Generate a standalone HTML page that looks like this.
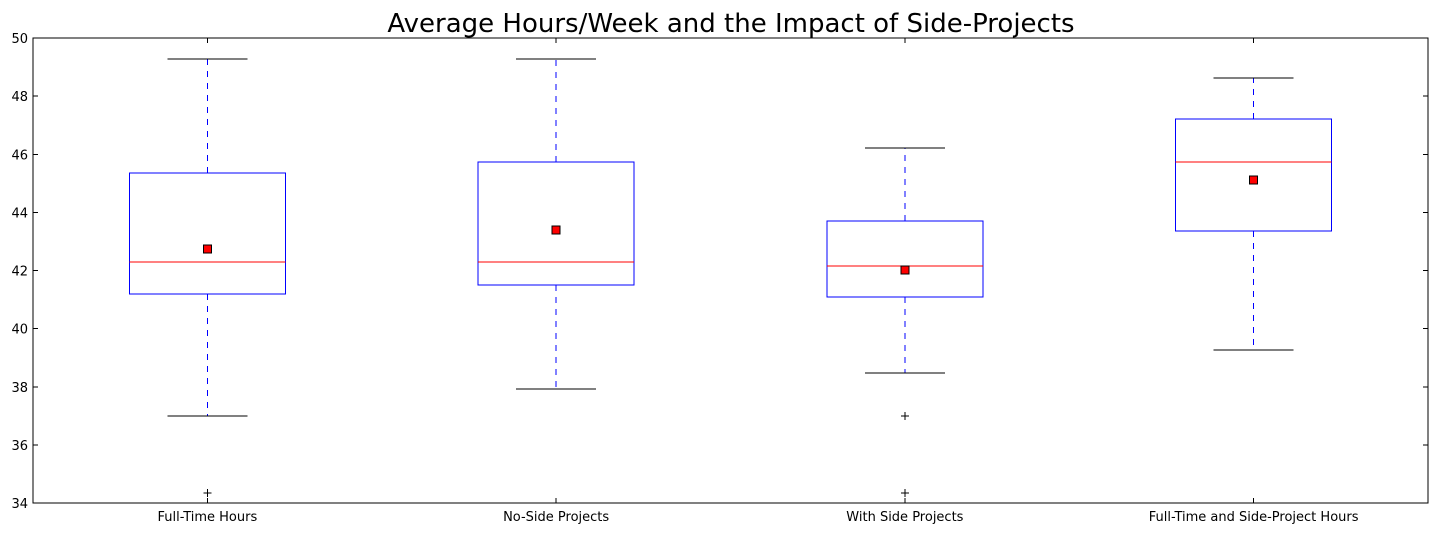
<!DOCTYPE html>
<html><head><meta charset="utf-8"><style>body{margin:0;background:#fff}svg{display:block;font-family:"DejaVu Sans","Liberation Sans",sans-serif}</style></head>
<body>
<svg id="chart" width="1438" height="533" shape-rendering="crispEdges"></svg>
<script>
const categories=["Full-Time Hours","No-Side Projects","With Side Projects","Full-Time and Side-Project Hours"];
const whiskerLow=[36.99,37.92,38.47,39.26];
const q1Values=[41.19,41.5,41.09,43.36];
const medianValues=[42.29,42.29,42.16,45.73];
const q3Values=[45.36,45.73,43.70,47.21];
const whiskerHigh=[49.28,49.28,46.22,48.62];
const meanValues=[42.74,43.39,42.02,45.11];
const outliers=[[34.35],[],[37.0,34.35],[]];
const yTicks=[34,36,38,40,42,44,46,48,50];
const NS="http://www.w3.org/2000/svg";
const svg=document.getElementById('chart');
const L=33,R=1428,T=38,B=503,ymin=34,ymax=50;
const y=v=>B-(v-ymin)/(ymax-ymin)*(B-T);
const x=i=>L+(i+0.5)*(R-L)/categories.length;
function el(t,a,p){const e=document.createElementNS(NS,t);for(const k in a)e.setAttribute(k,a[k]);(p||svg).appendChild(e);return e;}
const title=el('text',{x:731,y:32,'text-anchor':'middle','font-size':26,fill:'#000','shape-rendering':'auto'});
title.textContent="Average Hours/Week and the Impact of Side-Projects";


yTicks.forEach(v=>{
  const g=el('g',{});
  
  
  el('line',{x1:L,x2:L+5,y1:y(v),y2:y(v),stroke:'#000'},g);
  el('line',{x1:R,x2:R-5,y1:y(v),y2:y(v),stroke:'#000'},g);
  const t=el('text',{x:L-5,y:y(v)+5,'text-anchor':'end','font-size':13},g);t.textContent=v;
});
const bw=156;
categories.forEach((c,i)=>{
  const cx=x(i);
  const g=el('g',{});
  
  
  el('line',{x1:cx,x2:cx,y1:B,y2:B-5,stroke:'#000'},g);
  el('line',{x1:cx,x2:cx,y1:T,y2:T+5,stroke:'#000'},g);
  const t=el('text',{x:cx,y:521,'text-anchor':'middle','font-size':13},g);t.textContent=c;
  el('line',{x1:cx,x2:cx,y1:y(q3Values[i]),y2:y(whiskerHigh[i]),stroke:'#0000ff','stroke-dasharray':'6,6'},g);
  el('line',{x1:cx,x2:cx,y1:y(q1Values[i]),y2:y(whiskerLow[i]),stroke:'#0000ff','stroke-dasharray':'6,6'},g);
  el('line',{x1:cx-40,x2:cx+40,y1:y(whiskerHigh[i]),y2:y(whiskerHigh[i]),stroke:'#000'},g);
  el('line',{x1:cx-40,x2:cx+40,y1:y(whiskerLow[i]),y2:y(whiskerLow[i]),stroke:'#000'},g);
  el('rect',{x:cx-bw/2,y:y(q3Values[i]),width:bw,height:y(q1Values[i])-y(q3Values[i]),fill:'none',stroke:'#0000ff'},g);
  el('line',{x1:cx-bw/2,x2:cx+bw/2,y1:y(medianValues[i]),y2:y(medianValues[i]),stroke:'#ff0000'},g);
  el('rect',{x:cx-4,y:y(meanValues[i])-4,width:8,height:8,fill:'#ff0000',stroke:'#000','stroke-width':0.8},g);
  outliers[i].forEach(o=>{
    el('line',{x1:cx-4,x2:cx+4,y1:y(o),y2:y(o),stroke:'#000'},g);
    el('line',{x1:cx,x2:cx,y1:y(o)-4,y2:y(o)+4,stroke:'#000'},g);
  });
});
const frame=el('rect',{x:L,y:T,width:R-L,height:B-T,fill:'none',stroke:'#000','stroke-width':1.2});


</script>
</body></html>
